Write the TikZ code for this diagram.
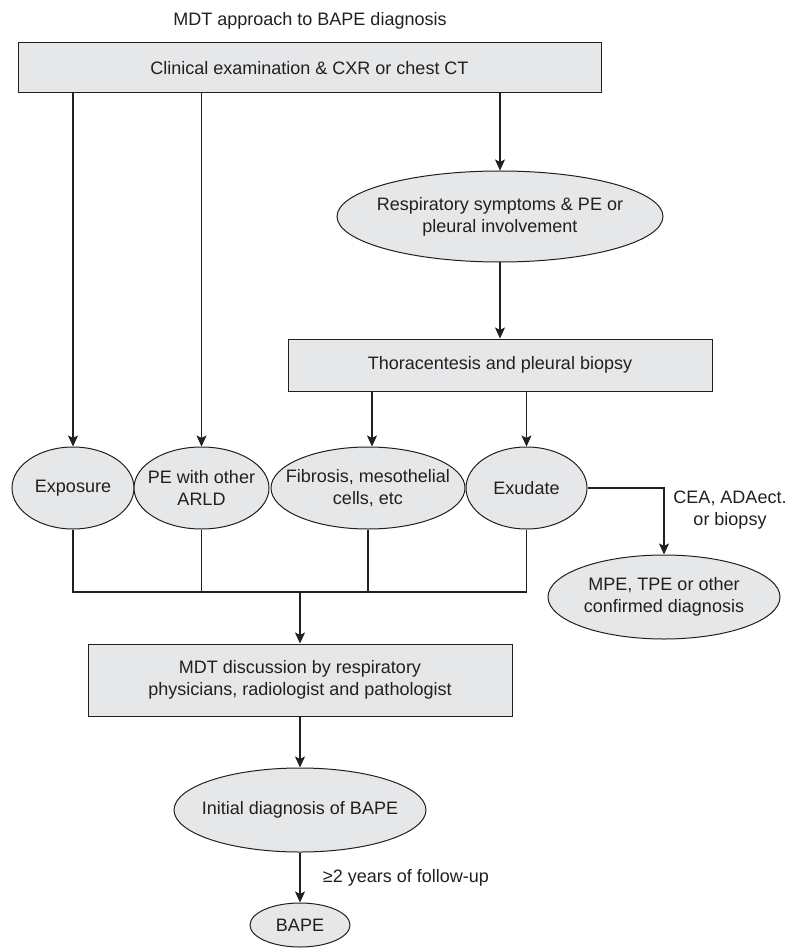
\documentclass[tikz,border=0pt]{standalone}
\usepackage{fontspec}
\setmainfont{Liberation Sans}
\usetikzlibrary{arrows.meta, shapes.geometric, positioning}
\definecolor{boxfill}{HTML}{E6E7E8}
\definecolor{ink}{HTML}{231F20}

\begin{document}
\begin{tikzpicture}[x=1pt, y=-1pt, font=\fontsize{18}{22}\selectfont, color=ink,
	box/.style={draw, fill=boxfill, line width=1pt, align=center, inner sep=0pt},
	oval/.style={ellipse, draw, fill=boxfill, line width=1pt, align=center, inner xsep=-90pt, inner ysep=-30pt},
	link/.style={line width=1.1pt},
	arr/.style={link, -{Stealth[length=11pt, width=10pt, inset=2.5pt]}}]
		\useasboundingbox (0,0) rectangle (788,949);
		
		% top
		\node (title) at (310,21) {MDT approach to BAPE diagnosis};
		\node[box, minimum width=583pt, minimum height=50pt] (clin) at (309.5,68) {Clinical examination \& CXR or chest CT};
		\node[oval, minimum width=326pt, minimum height=91pt] (resp) at (500,216.5) {Respiratory symptoms \& PE or\\pleural involvement};
		\node[box, minimum width=424pt, minimum height=52pt] (thor) at (500,365) {Thoracentesis and pleural biopsy};
		
		% findings
		\node[oval, minimum width=122pt, minimum height=82pt] (expo) at (73,488) {Exposure};
		\node[oval, minimum width=135pt, minimum height=82pt] (peo) at (201.5,488) {PE with other\\ARLD};
		\node[oval, minimum width=194pt, minimum height=82pt] (fib) at (368,488) {Fibrosis, mesothelial\\cells, etc};
		\node[oval, minimum width=121pt, minimum height=82pt] (exud) at (526.5,488) {Exudate};
		\node[oval, minimum width=232pt, minimum height=84pt] (mpe) at (664,597) {MPE, TPE or other\\confirmed diagnosis};
		\node[align=center] (test) at (730,510) {CEA, ADAect.\\or biopsy};
		
		% bottom
		\coordinate (bus) at (300,592);
		\node[box, minimum width=424pt, minimum height=72pt] (mdt) at (300,680) {MDT discussion by respiratory\\physicians, radiologist and pathologist};
		\node[oval, minimum width=252pt, minimum height=84pt] (init) at (300,810) {Initial diagnosis of BAPE};
		\node[oval, minimum width=100pt, minimum height=44pt] (bape) at (300,925) {BAPE};
		
		% top
		\path[arr] (expo |- clin.south) edge (expo.north)
		(peo |- clin.south) edge (peo.north)
		(resp |- clin.south) edge (resp.north)
		(resp.south) edge (thor.north)
		([xshift=4pt]fib |- thor.south) edge ([xshift=4pt]fib.north)
		(exud |- thor.south) edge (exud.north);
		\draw[arr] (exud.east) -| (mpe.north);
		
		% bottom
		\draw[link] (expo.south) |- (bus) -| (exud.south);
		\draw[link] (peo.south) -- (peo.south |- bus);
		\draw[link] (fib.south) -- (fib.south |- bus);
		\path[arr] (bus) edge (mdt.north)
		(mdt.south) edge (init.north)
		(init.south) edge node[right, xshift=19pt] {≥2 years of follow-up} (bape.north);
\end{tikzpicture}
\end{document}
